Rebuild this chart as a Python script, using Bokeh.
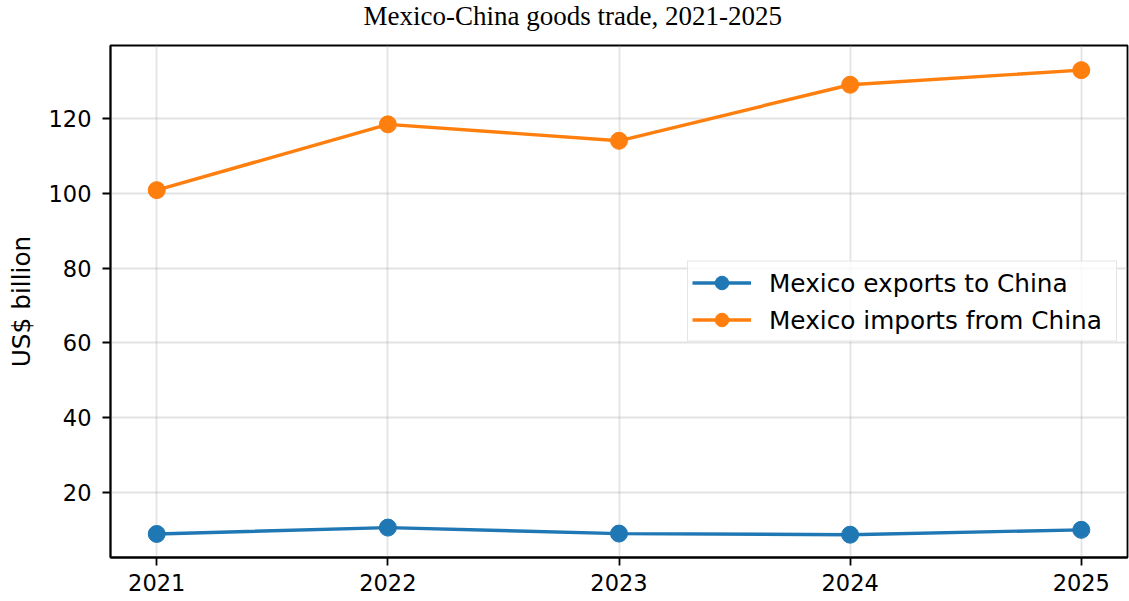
from bokeh.plotting import figure
from bokeh.models import Range1d, FixedTicker, Legend, LegendItem, Title
from bokeh.embed import file_html
from bokeh.resources import INLINE

years = [2021, 2022, 2023, 2024, 2025]
exports = [8.9, 10.6, 9.0, 8.7, 10.0]
imports = [100.9, 118.5, 114.1, 129.1, 133.0]
y_ticks = [20, 40, 60, 80, 100, 120]
title_text = "Mexico-China goods trade, 2021-2025"
label_exports = "Mexico exports to China"
label_imports = "Mexico imports from China"
y_label = "US$ billion"

BLUE = "#1f77b4"
ORANGE = "#ff7f0e"
FONT = "DejaVu Sans"
FS = "22.5px"
FS_L = "24.75px"

p = figure(width=1129, height=601, output_backend="svg", toolbar_location=None,
           x_range=Range1d(2020.8, 2025.2), y_range=Range1d(2.6, 139.6),
           min_border_left=110, min_border_right=2, min_border_top=45, min_border_bottom=44)
p.background_fill_color = "white"
p.border_fill_color = "white"
p.outline_line_color = "black"
p.outline_line_width = 1.8
p.outline_line_alpha = 1.0

for ax in (p.xaxis[0], p.yaxis[0]):
    ax.axis_line_color = "black"
    ax.axis_line_width = 1.8
    ax.major_tick_line_color = "black"
    ax.major_tick_line_width = 1.8
    ax.major_tick_out = 8
    ax.major_tick_in = 0
    ax.minor_tick_line_color = None
    ax.major_label_text_font = FONT
    ax.major_label_text_font_size = FS
    ax.major_label_text_color = "black"

p.xaxis.ticker = FixedTicker(ticks=years)
p.yaxis.ticker = FixedTicker(ticks=y_ticks)
p.xaxis.major_label_standoff = 8
p.yaxis.major_label_standoff = 11
p.yaxis.axis_label = y_label
p.yaxis.axis_label_text_font = FONT
p.yaxis.axis_label_text_font_size = FS_L
p.yaxis.axis_label_text_font_style = "normal"
p.yaxis.axis_label_text_color = "black"
p.yaxis.axis_label_standoff = 10

for g in (p.xgrid[0], p.ygrid[0]):
    g.grid_line_color = "#b0b0b0"
    g.grid_line_alpha = 0.35
    g.grid_line_width = 1.8
p.xgrid.ticker = FixedTicker(ticks=years)
p.ygrid.ticker = FixedTicker(ticks=y_ticks)

l1 = p.line(years, exports, line_color=BLUE, line_width=3.4)
s1 = p.scatter(years, exports, size=17, fill_color=BLUE, line_color=BLUE)
l2 = p.line(years, imports, line_color=ORANGE, line_width=3.4)
s2 = p.scatter(years, imports, size=17, fill_color=ORANGE, line_color=ORANGE)

legend = Legend(items=[LegendItem(label=label_exports, renderers=[l1, s1]),
                       LegendItem(label=label_imports, renderers=[l2, s2])],
                location="center_right")
legend.label_text_font = FONT
legend.label_text_font_size = FS_L
legend.label_text_color = "black"
legend.glyph_width = 59
legend.glyph_height = 34
legend.label_height = 34
legend.label_width = 343
legend.label_standoff = 18
legend.padding = 4
legend.spacing = 3
legend.margin = 10
legend.border_line_color = "#cccccc"
legend.border_line_width = 1.8
legend.background_fill_color = "white"
legend.background_fill_alpha = 0.8
p.add_layout(legend, "center")

# spacer nearest the frame, title outermost
p.add_layout(Title(text=" ", text_font_size="8px", standoff=2), "above")
p.title.text = title_text
p.title.text_font = "Liberation Serif"
p.title.text_font_size = "27px"
p.title.text_font_style = "normal"
p.title.text_color = "black"
p.title.align = "left"
p.title.offset = 253
p.title.vertical_align = "top"
p.title.standoff = 0

open("out.html", "w").write(file_html(p, INLINE))
